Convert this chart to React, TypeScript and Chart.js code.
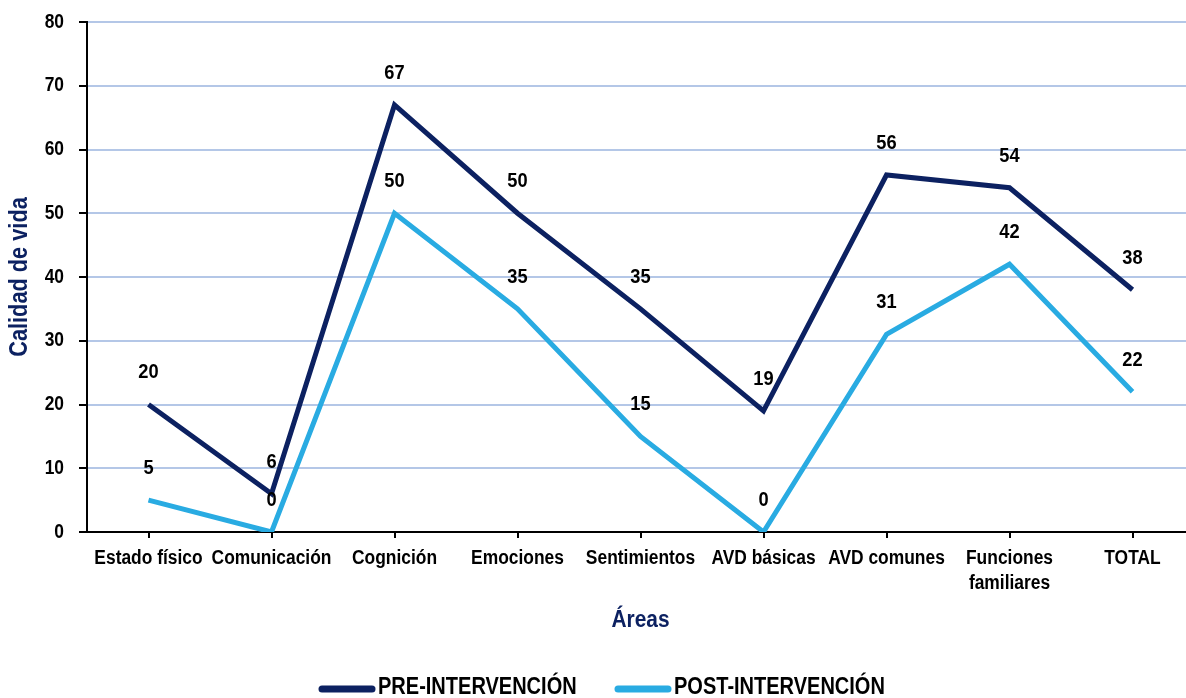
import React, { useEffect, useRef } from "react";
import { Chart, registerables } from "chart.js";

Chart.register(...registerables);

const categories: (string | string[])[] = [
  "Estado físico",
  "Comunicación",
  "Cognición",
  "Emociones",
  "Sentimientos",
  "AVD básicas",
  "AVD comunes",
  ["Funciones", "familiares"],
  "TOTAL",
];
const preValues = [20, 6, 67, 50, 35, 19, 56, 54, 38];
const postValues = [5, 0, 50, 35, 15, 0, 31, 42, 22];
const seriesNames = ["PRE-INTERVENCIÓN", "POST-INTERVENCIÓN"];
const yTicks = [0, 10, 20, 30, 40, 50, 60, 70, 80];

const PRE_COLOR = "#0c2161";
const POST_COLOR = "#29abe2";
const TITLE_COLOR = "#0c2161";
const FONT = "'Liberation Sans', Arial, sans-serif";
const SQUEEZE = 0.87;

function condensed(
  ctx: CanvasRenderingContext2D,
  text: string,
  x: number,
  y: number,
  size: number,
  align: CanvasTextAlign,
  color: string,
  rotate = 0
) {
  ctx.save();
  ctx.translate(x, y);
  if (rotate) ctx.rotate(rotate);
  ctx.scale(SQUEEZE, 1);
  ctx.font = `bold ${size}px ${FONT}`;
  ctx.fillStyle = color;
  ctx.textAlign = align;
  ctx.textBaseline = "middle";
  ctx.fillText(text, 0, 0);
  ctx.restore();
}

export default function App() {
  const ref = useRef<HTMLCanvasElement | null>(null);

  useEffect(() => {
    const canvas = ref.current!;
    const overlay = {
      id: "overlay",
      afterDatasetsDraw(chart: any) {
        const ctx = chart.ctx;
        chart.data.datasets.forEach((ds: any, di: number) => {
          const meta = chart.getDatasetMeta(di);
          meta.data.forEach((pt: any, i: number) => {
            condensed(ctx, String(ds.data[i]), pt.x, pt.y - 32, 21, "center", "#000");
          });
        });
      },
      afterDraw(chart: any) {
        const ctx = chart.ctx;
        const ca = chart.chartArea;
        const xs = chart.scales.x;
        const ys = chart.scales.y;
        yTicks.forEach((v) => {
          condensed(ctx, String(v), ca.left - 23, ys.getPixelForValue(v), 20, "right", "#000");
        });
        categories.forEach((c, i) => {
          const lines = Array.isArray(c) ? c : [c];
          const x = xs.getPixelForTick(i);
          lines.forEach((ln, j) => {
            condensed(ctx, ln, x, ca.bottom + 26 + j * 25, 20, "center", "#000");
          });
        });
        condensed(ctx, "Áreas", (ca.left + ca.right) / 2, 620, 24, "center", TITLE_COLOR);
        condensed(ctx, "Calidad de vida", 20, (ca.top + ca.bottom) / 2, 25, "center", TITLE_COLOR, -Math.PI / 2);
        const items = [
          { name: seriesNames[0], color: PRE_COLOR, x: 322 },
          { name: seriesNames[1], color: POST_COLOR, x: 618 },
        ];
        items.forEach((it) => {
          ctx.save();
          ctx.strokeStyle = it.color;
          ctx.lineWidth = 7;
          ctx.lineCap = "round";
          ctx.beginPath();
          ctx.moveTo(it.x, 689);
          ctx.lineTo(it.x + 50, 689);
          ctx.stroke();
          ctx.restore();
          condensed(ctx, it.name, it.x + 56, 688, 23, "left", "#000");
        });
      },
    };

    const chart = new Chart(canvas, {
      type: "line",
      data: {
        labels: categories,
        datasets: [
          {
            label: seriesNames[0],
            data: preValues,
            borderColor: PRE_COLOR,
            backgroundColor: PRE_COLOR,
            borderWidth: 5,
            pointRadius: 0,
            tension: 0,
          },
          {
            label: seriesNames[1],
            data: postValues,
            borderColor: POST_COLOR,
            backgroundColor: POST_COLOR,
            borderWidth: 5,
            pointRadius: 0,
            tension: 0,
          },
        ],
      },
      options: {
        responsive: false,
        animation: false,
        layout: { padding: { top: 22, left: 0, right: 0, bottom: 0 } },
        plugins: {
          legend: { display: false },
          tooltip: { enabled: false },
        },
        scales: {
          x: {
            offset: true,
            grid: {
              offset: false,
              drawOnChartArea: false,
              drawTicks: true,
              tickLength: 6,
              color: "#000",
              tickColor: "#000",
              lineWidth: 2,
            },
            border: { display: true, color: "#000", width: 2 },
            ticks: { display: false, autoSkip: false, maxRotation: 0 },
            afterFit: (s: any) => {
              s.height = 698 - 532;
            },
          },
          y: {
            min: 0,
            max: 80,
            afterBuildTicks: (s: any) => {
              s.ticks = yTicks.map((v) => ({ value: v }));
            },
            grid: {
              color: "#b4c7e7",
              lineWidth: 2,
              tickColor: "#000",
              tickLength: 8,
            },
            border: { display: true, color: "#000", width: 2 },
            ticks: { display: false },
            afterFit: (s: any) => {
              s.width = 87;
            },
          },
        },
      },
      plugins: [overlay],
    });
    return () => chart.destroy();
  }, []);

  return (
    <div
      style={{
        position: "fixed",
        left: 0,
        top: 0,
        width: 1186,
        height: 698,
        overflow: "hidden",
        background: "#fff",
      }}
    >
      <canvas ref={ref} width={1194} height={698} style={{ display: "block" }} />
    </div>
  );
}
